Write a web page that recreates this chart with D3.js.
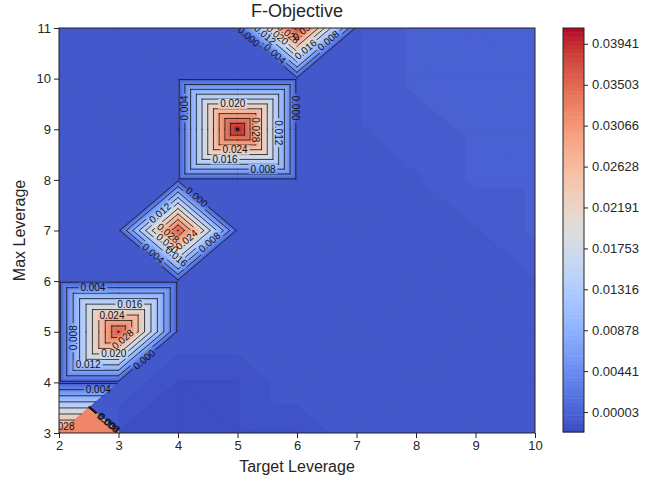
<!DOCTYPE html>
<html><head><meta charset="utf-8">
<script src="https://cdn.jsdelivr.net/npm/d3@7"></script>
<style>
body{margin:0;background:#fff}
text{font-family:"Liberation Sans",Arial,sans-serif}
</style>
</head><body>
<svg id="c" width="665" height="481"></svg>
<script>
// ---------------- DATA ----------------
const xTicks = [2,3,4,5,6,7,8,9,10];          // Target Leverage grid
const yTicks = [3,4,5,6,7,8,9,10,11];         // Max Leverage grid
// F-Objective at grid nodes, one row per Max Leverage (3 .. 11), columns Target Leverage 2 .. 10
const zRows = [
  [ 0.0325,-0.0017,-0.0017,-0.0017,-0.0017,-0.0008,-0.0008,-0.0008,-0.0008], // 3
  [-0.0008,-0.0008,-0.0017,-0.0017,-0.0008,-0.0008,-0.0008,-0.0008,-0.0008], // 4
  [-0.0008, 0.0362,-0.0008,-0.0008,-0.0008,-0.0008,-0.0008,-0.0008,-0.0008], // 5
  [-0.0008,-0.0008,-0.0008,-0.0008,-0.0008,-0.0008,-0.0008,-0.0008,-0.0008], // 6
  [-0.0008,-0.0008, 0.0360,-0.0008,-0.0008,-0.0008,-0.0008,-0.0008,-0.0002], // 7
  [-0.0008,-0.0008,-0.0008,-0.0008,-0.0008,-0.0008,-0.0008,-0.0002,-0.0002], // 8
  [-0.0008,-0.0008,-0.0008, 0.0408,-0.0008,-0.0008,-0.0005,-0.0002,-0.0002], // 9
  [-0.0008,-0.0008,-0.0008,-0.0008,-0.0008,-0.0008,-0.0002,-0.0002,-0.0002], // 10
  [-0.0008,-0.0008,-0.0008,-0.0008, 0.0380,-0.0008,-0.0002,-0.0002,-0.0002]  // 11
];
// bottom-left cell (2..3 x 3..4): its own triangles, vertices [target, max, value]
const cornerTriangles = [
  [[2,3,0.0325],[3,4,-0.0008],[2,4,-0.0008]],
  [[2,3,0.0325],[3,3,0.0325],[2.5,3.5,0.0325]],
  [[3,3,0.0325],[2.5,3.5,0.0325],[2.52,3.52,-0.0012]],
  [[3,3,0.0325],[2.52,3.52,-0.0012],[3,3.04,-0.0012]],
  [[3,3.04,-0.0012],[2.52,3.52,-0.0012],[3,4,-0.0008]]
];
// cells whose diagonal runs the other way
const flippedCells = [[3,4]];
const lineLevels = [0.000,0.004,0.008,0.012,0.016,0.020,0.024,0.028,0.032,0.036,0.040];
const cbTicks = [0.00003,0.00441,0.00878,0.01316,0.01753,0.02191,0.02628,0.03066,0.03503,0.03941];
const cbRange = [-0.0021, 0.0411];
// contour label anchors: [level, target, max, rotation override]
const labelSpots = [
  [0.004,4.12,9.42],[0.000,5.98,9.42],[0.020,4.92,9.50],[0.028,5.31,8.99],
  [0.024,4.96,8.63],[0.016,4.79,8.43],[0.012,5.68,8.93],[0.008,5.43,8.23],
  [0.000,4.30,7.64],[0.012,3.68,7.37],[0.008,4.50,6.81],[0.004,3.58,6.54],
  [0.016,4.00,6.52],[0.028,3.85,6.97],[0.020,3.86,6.80],[0.024,4.10,6.88],
  [0.004,2.57,5.86],[0.016,3.19,5.55],[0.024,2.89,5.33],[0.008,2.25,4.88,-90],
  [0.028,3.05,4.88],[0.020,2.92,4.56],[0.012,2.49,4.34],[0.000,3.41,4.48],
  [0.004,2.66,3.85],[0.028,2.05,3.14],[0.000,2.82,3.18],[0.004,2.83,3.17],[0.008,2.81,3.19],
  [0.000,5.21,10.86],[0.004,5.63,10.49],[0.008,6.52,10.76],[0.016,6.2,10.5],
  [0.012,5.45,10.85],[0.020,5.7,10.9],[0.028,5.9,10.95],[0.032,6.1,10.97]
];

// ---------------- SETUP ----------------
const svg = d3.select("#c");
const M = {l:59, r:535, t:28, b:433};
const x = d3.scaleLinear().domain([2,10]).range([M.l,M.r]);
const y = d3.scaleLinear().domain([3,11]).range([M.b,M.t]);
const cwHex = ["#3b4cc0","#445acc","#4d68d7","#5775e1","#6282ea","#6c8ef1","#779af7","#82a5fb","#8db0fe","#98b9ff","#a3c2ff","#aec9fd","#b8d0f9","#c2d5f4","#ccd9ee","#d5dbe6","#dddddd","#e5d8d1","#ecd3c5","#f1ccb9","#f5c4ad","#f7bba0","#f7b194","#f7a687","#f49a7b","#f18d6f","#ec7f63","#e57058","#de604d","#d55042","#cb3e38","#c0282f","#b40426"];
const cw = d3.scaleLinear().domain(cwHex.map((c,i)=>i/(cwHex.length-1))).range(cwHex).interpolate(d3.interpolateRgb).clamp(true);
const norm = d3.scaleLinear().domain(cbRange).range([0,1]);
const color = v => cw(norm(v));
const nBands = 96;
const bandEdges = d3.range(nBands+1).map(i=>cbRange[0]+(cbRange[1]-cbRange[0])*i/nBands);

const defs = svg.append("defs");
defs.append("clipPath").attr("id","plotclip").append("rect")
  .attr("x",M.l).attr("y",M.t).attr("width",M.r-M.l).attr("height",M.b-M.t);

// ---------------- TRIANGULATION ----------------
const tris = [];
const node = (i,j)=>[xTicks[i],yTicks[j],zRows[j][i]];
for (let j=0;j<yTicks.length-1;j++){
  for (let i=0;i<xTicks.length-1;i++){
    const X=xTicks[i], Y=yTicks[j];
    if (X===2 && Y===3) continue;
    let slash = (X+Y)%2===0;
    if (flippedCells.some(c=>c[0]===X&&c[1]===Y)) slash=!slash;
    const a=node(i,j), b=node(i+1,j), c=node(i+1,j+1), d=node(i,j+1);
    if (slash){ tris.push([a,b,c]); tris.push([a,c,d]); }
    else { tris.push([a,b,d]); tris.push([b,c,d]); }
  }
}
cornerTriangles.forEach(t=>tris.push(t));

function clip(poly, level, above){
  const out=[];
  for (let i=0;i<poly.length;i++){
    const a=poly[i], b=poly[(i+1)%poly.length];
    const ina = above ? a[2]>=level : a[2]<=level;
    const inb = above ? b[2]>=level : b[2]<=level;
    if (ina) out.push(a);
    if (ina!==inb){
      const t=(level-a[2])/(b[2]-a[2]);
      out.push([a[0]+t*(b[0]-a[0]), a[1]+t*(b[1]-a[1]), level]);
    }
  }
  return out;
}
const pathOf = p => "M"+p.map(q=>x(q[0]).toFixed(2)+","+y(q[1]).toFixed(2)).join("L")+"Z";

// ---------------- FILLED CONTOURS ----------------
const fillG = svg.append("g").attr("clip-path","url(#plotclip)");
fillG.append("rect").attr("x",M.l).attr("y",M.t).attr("width",M.r-M.l).attr("height",M.b-M.t)
  .attr("fill",color(-0.0008));
tris.forEach(t=>{
  const zs=t.map(p=>p[2]), mn=d3.min(zs), mx=d3.max(zs);
  for (let k=0;k<nBands;k++){
    const lo=bandEdges[k], hi=bandEdges[k+1];
    if (mx<lo || mn>hi) continue;
    let p=clip(t,lo,true); if (p.length<3) continue;
    p=clip(p,hi,false); if (p.length<3) continue;
    const col=color((lo+hi)/2);
    fillG.append("path").attr("d",pathOf(p)).attr("fill",col).attr("stroke",col).attr("stroke-width",0.6);
  }
});

// ---------------- CONTOUR LINES ----------------
const segs = new Map(lineLevels.map(L=>[L,[]]));
tris.forEach(t=>{
  lineLevels.forEach(L=>{
    const pts=[];
    for (let e=0;e<3;e++){
      const a=t[e], b=t[(e+1)%3];
      if ((a[2]<L)!==(b[2]<L)){
        const s=(L-a[2])/(b[2]-a[2]);
        pts.push([x(a[0]+s*(b[0]-a[0])), y(a[1]+s*(b[1]-a[1]))]);
      }
    }
    if (pts.length===2) segs.get(L).push(pts);
  });
});

const mask = defs.append("mask").attr("id","lblmask").attr("maskUnits","userSpaceOnUse")
  .attr("x",0).attr("y",0).attr("width",665).attr("height",481);
mask.append("rect").attr("x",0).attr("y",0).attr("width",665).attr("height",481).attr("fill","#fff");

const lineG = svg.append("g").attr("clip-path","url(#plotclip)").append("g").attr("mask","url(#lblmask)");
lineLevels.forEach(L=>{
  const d=segs.get(L).map(s=>"M"+s[0][0].toFixed(2)+","+s[0][1].toFixed(2)+"L"+s[1][0].toFixed(2)+","+s[1][1].toFixed(2)).join("");
  if (d) lineG.append("path").attr("d",d).attr("fill","none").attr("stroke","#111").attr("stroke-width",0.8).attr("stroke-linecap","round");
});

// ---------------- CONTOUR LABELS ----------------
const fmt3 = d3.format(".3f");
const lblG = svg.append("g").attr("clip-path","url(#plotclip)");
const lblFont = 10;
labelSpots.forEach(sp=>{
  const L=sp[0], px=x(sp[1]), py=y(sp[2]);
  let best=null, bd=Infinity;
  segs.get(L).forEach(s=>{
    const [a,b]=s, dx=b[0]-a[0], dy=b[1]-a[1];
    const len2=dx*dx+dy*dy||1e-9;
    let t=((px-a[0])*dx+(py-a[1])*dy)/len2; t=Math.max(0,Math.min(1,t));
    const qx=a[0]+t*dx, qy=a[1]+t*dy, d=(qx-px)**2+(qy-py)**2;
    if (d<bd){bd=d; best={qx,qy,dx,dy};}
  });
  if (!best) return;
  let ang = Math.atan2(best.dy,best.dx)*180/Math.PI;
  if (ang>90) ang-=180;
  if (ang<=-90) ang+=180;
  if (sp.length>3) ang=sp[3];
  const tr=`translate(${best.qx.toFixed(2)},${best.qy.toFixed(2)}) rotate(${ang.toFixed(1)})`;
  const t=lblG.append("text").attr("transform",tr).attr("text-anchor","middle").attr("dy","0.35em")
    .attr("font-size",lblFont).attr("fill","#111").text(fmt3(L));
  const w=t.node().getComputedTextLength();
  mask.append("rect").attr("transform",tr).attr("x",-w/2-2).attr("y",-lblFont*0.5).attr("width",w+4).attr("height",lblFont).attr("fill","#000");
});

// ---------------- FRAME & AXES ----------------
svg.append("rect").attr("x",M.l).attr("y",M.t).attr("width",M.r-M.l).attr("height",M.b-M.t)
  .attr("fill","none").attr("stroke","#222").attr("stroke-width",1);
const ax = svg.append("g").attr("transform",`translate(0,${M.b})`)
  .call(d3.axisBottom(x).tickValues(xTicks).tickFormat(d3.format("d")).tickSize(5).tickPadding(3));
const ay = svg.append("g").attr("transform",`translate(${M.l},0)`)
  .call(d3.axisLeft(y).tickValues(yTicks).tickFormat(d3.format("d")).tickSize(5).tickPadding(3));
[ax,ay].forEach(g=>{
  g.select(".domain").remove();
  g.selectAll(".tick line").attr("stroke","#222");
  g.selectAll(".tick text").attr("font-size",13).attr("fill","#262626").attr("font-family","Liberation Sans, Arial, sans-serif");
});

svg.append("text").attr("x",(M.l+M.r)/2).attr("y",17).attr("text-anchor","middle")
  .attr("font-size",18).attr("fill","#262626").text("F-Objective");
svg.append("text").attr("x",(M.l+M.r)/2).attr("y",472).attr("text-anchor","middle")
  .attr("font-size",16).attr("fill","#262626").text("Target Leverage");
svg.append("text").attr("transform",`translate(25,${(M.t+M.b)/2}) rotate(-90)`).attr("text-anchor","middle")
  .attr("font-size",16).attr("fill","#262626").text("Max Leverage");

// ---------------- COLORBAR ----------------
const CB = {x:563, w:21, t:28, b:432};
const cy = d3.scaleLinear().domain(cbRange).range([CB.b,CB.t]);
const cbG = svg.append("g");
d3.range(nBands).forEach(k=>{
  const lo=bandEdges[k], hi=bandEdges[k+1];
  cbG.append("rect").attr("x",CB.x).attr("width",CB.w).attr("y",cy(hi)).attr("height",cy(lo)-cy(hi)+0.5)
    .attr("fill",color((lo+hi)/2));
});
svg.append("rect").attr("x",CB.x).attr("y",CB.t).attr("width",CB.w).attr("height",CB.b-CB.t)
  .attr("fill","none").attr("stroke","#222").attr("stroke-width",1);
const ac = svg.append("g").attr("transform",`translate(${CB.x+CB.w},0)`)
  .call(d3.axisRight(cy).tickValues(cbTicks).tickFormat(d3.format(".5f")).tickSize(4).tickPadding(4));
ac.select(".domain").remove();
ac.selectAll(".tick line").attr("stroke","#222");
ac.selectAll(".tick text").attr("font-size",13).attr("fill","#262626").attr("font-family","Liberation Sans, Arial, sans-serif");
</script>
</body></html>
